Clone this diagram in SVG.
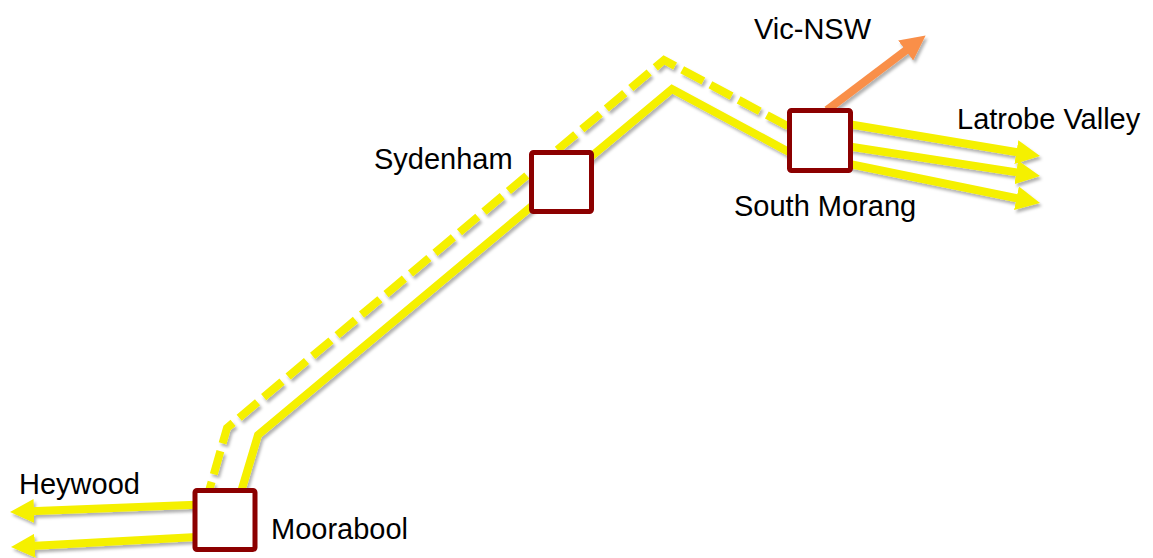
<svg xmlns="http://www.w3.org/2000/svg" width="1153" height="558" viewBox="0 0 1153 558">
  <style>
    .line { fill: none; stroke: #F5F000; stroke-width: 8; stroke-linejoin: miter; stroke-linecap: butt; }
    .dashed { stroke-dasharray: 24 8; }
    .arrow { marker-end: url(#head-yellow); }
    .orange { fill: none; stroke: #F98F4A; stroke-width: 8; marker-end: url(#head-orange); }
    .station { fill: #FFFFFF; stroke: #8C0000; stroke-width: 5; }
    .label { font-family: "Liberation Sans", Arial, sans-serif; font-size: 29px; fill: #000000; }
  </style>
  <defs>
    <filter id="shadow" x="-10%" y="-10%" width="120%" height="130%">
      <feDropShadow dx="2" dy="3" stdDeviation="1.8" flood-color="#000000" flood-opacity="0.3"/>
    </filter>
    <marker id="head-yellow" viewBox="0 0 24 24" refX="4" refY="12" markerWidth="24" markerHeight="24" markerUnits="userSpaceOnUse" orient="auto">
      <path d="M0,0 L24,12 L0,24 Z" fill="#F5F000"/>
    </marker>
    <marker id="head-orange" viewBox="0 0 24 24" refX="4" refY="12" markerWidth="25" markerHeight="25" markerUnits="userSpaceOnUse" orient="auto">
      <path d="M0,0 L24,12 L0,24 Z" fill="#F98F4A"/>
    </marker>
  </defs>

  <!-- transmission lines -->
  <g id="connectors" filter="url(#shadow)">
    <path class="line dashed" d="M205,505 L227,428 L664,60 L795,130"/>
    <path class="line" d="M241,492 L258,435 L672,89 L800,158"/>
    <path class="line arrow" d="M215,504 L30,511.2"/>
    <path class="line arrow" d="M215,536 L31,545.9"/>
    <path class="line arrow" d="M830,121 L1020.3,152.7"/>
    <path class="line arrow" d="M830,143.5 L1020.2,172.9"/>
    <path class="line arrow" d="M830,160 L1020.4,199"/>
    <path class="orange" d="M827,110 L909,48"/>
  </g>

  <!-- substations -->
  <g id="moorabool">
    <rect class="station" x="195" y="490.5" width="60" height="59" rx="2"/>
    <text class="label" x="271" y="539">Moorabool</text>
  </g>
  <g id="sydenham">
    <rect class="station" x="531.5" y="152.5" width="60" height="59" rx="2"/>
    <text class="label" x="374" y="169">Sydenham</text>
  </g>
  <g id="south-morang">
    <rect class="station" x="789.5" y="110.5" width="61" height="60" rx="2"/>
    <text class="label" x="734" y="216">South Morang</text>
  </g>

  <!-- interconnector labels -->
  <g id="heywood">
    <text class="label" x="19" y="494">Heywood</text>
  </g>
  <g id="latrobe-valley">
    <text class="label" x="957" y="129">Latrobe Valley</text>
  </g>
  <g id="vic-nsw">
    <text class="label" x="754" y="39">Vic-NSW</text>
  </g>
</svg>
